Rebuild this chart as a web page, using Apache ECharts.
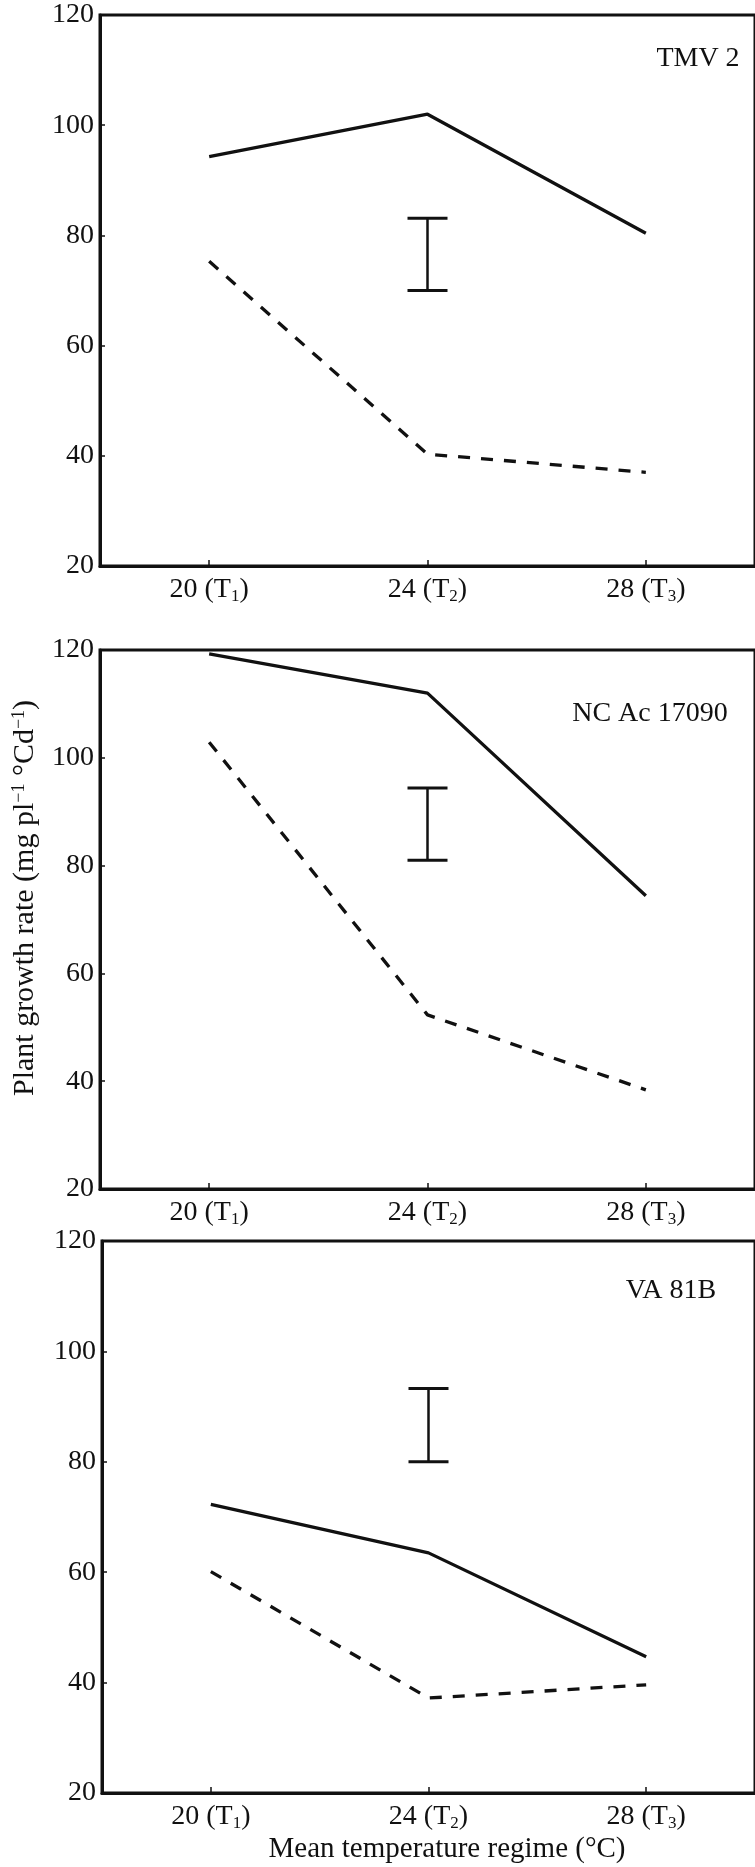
<!DOCTYPE html>
<html>
<head>
<meta charset="utf-8">
<script src="https://cdn.jsdelivr.net/npm/echarts@6/dist/echarts.min.js"></script>
<style>
html,body{margin:0;padding:0;background:#fff;}
#chart{width:755px;height:1867px;}
</style>
</head>
<body>
<div id="chart"></div>
<script>
// ---- data ----
const categories = ['20 (T1)', '24 (T2)', '28 (T3)'];
const panelNames = ['TMV 2', 'NC Ac 17090', 'VA 81B'];
const yMin = 20, yMax = 120, yStep = 20;

const tmvSolid  = [94.3, 102.0, 80.4];
const tmvDashed = [75.3, 40.3, 37.0];
const tmvErr    = [70.0, 83.1];

const ncSolid   = [119.3, 112.0, 74.4];
const ncDashed  = [102.9, 52.3, 38.4];
const ncErr     = [81.0, 94.4];

const vaSolid   = [72.3, 63.5, 44.7];
const vaDashed  = [60.1, 37.2, 39.6];
const vaErr     = [80.0, 93.3];

const errCategoryIndex = 1;

const yTitle = 'Plant growth rate (mg pl{sup|\u22121} \u00B0Cd{sup|\u22121})';
const xTitle = 'Mean temperature regime (\u00B0C)';

// ---- styling / layout ----
const FONT = '"Liberation Serif", "Times New Roman", serif';
const INK = '#111';
const grids = [
  {left: 100, top: 15,   width: 667, height: 551},
  {left: 100, top: 650,  width: 662, height: 539},
  {left: 102, top: 1241, width: 661, height: 552}
];
const panelLabelPos = [[698, 59], [650, 714], [671, 1291]];
const panels = [
  {solid: tmvSolid, dashed: tmvDashed, err: tmvErr},
  {solid: ncSolid,  dashed: ncDashed,  err: ncErr},
  {solid: vaSolid,  dashed: vaDashed,  err: vaErr}
];

const chart = echarts.init(document.getElementById('chart'), null, {renderer: 'canvas'});

const xAxes = [], yAxes = [], series = [], graphics = [];
panels.forEach((p, i) => {
  xAxes.push({
    type: 'category', gridIndex: i, data: categories, boundaryGap: true,
    axisLine: {show: true, lineStyle: {color: INK, width: 3}},
    axisTick: {show: true, inside: true, alignWithLabel: true, interval: 0, length: 6, lineStyle: {color: INK, width: 1.5}},
    splitLine: {show: false},
    axisLabel: {
      interval: 0, hideOverlap: false,
      margin: 9, color: INK, fontFamily: FONT, fontSize: 28,
      formatter: v => '{a|' + v.replace(/T(\d)\)/, 'T}{s|$1}{a|)') + '}',
      rich: {
        a: {fontFamily: FONT, fontSize: 28, color: INK, lineHeight: 30, verticalAlign: 'middle'},
        s: {fontFamily: FONT, fontSize: 17, color: INK, lineHeight: 17, verticalAlign: 'bottom'}
      }
    }
  });
  yAxes.push({
    type: 'value', gridIndex: i, min: yMin, max: yMax, interval: yStep,
    axisLine: {show: true, lineStyle: {color: INK, width: 3}},
    axisTick: {show: true, inside: true, length: 5, lineStyle: {color: INK, width: 1.5}},
    splitLine: {show: false},
    axisLabel: {margin: 6, color: INK, fontFamily: FONT, fontSize: 28}
  });
  series.push({
    type: 'line', xAxisIndex: i, yAxisIndex: i, data: p.solid,
    symbol: 'none', lineStyle: {color: INK, width: 3.3, type: 'solid'}, z: 3
  });
  series.push({
    type: 'line', xAxisIndex: i, yAxisIndex: i, data: p.dashed,
    symbol: 'none', lineStyle: {color: INK, width: 3.3, type: [12, 11]}, z: 3
  });
  series.push({
    type: 'custom', xAxisIndex: i, yAxisIndex: i,
    data: [[errCategoryIndex, p.err[0], p.err[1]]],
    encode: {x: 0, y: [1, 2]},
    renderItem: (params, api) => {
      const lo = api.coord([api.value(0), api.value(1)]);
      const hi = api.coord([api.value(0), api.value(2)]);
      const hw = 20;
      return {
        type: 'group',
        children: [
          {type: 'line', shape: {x1: lo[0], y1: lo[1], x2: hi[0], y2: hi[1]}, style: {stroke: INK, lineWidth: 2.5}},
          {type: 'line', shape: {x1: hi[0]-hw, y1: hi[1], x2: hi[0]+hw, y2: hi[1]}, style: {stroke: INK, lineWidth: 3}},
          {type: 'line', shape: {x1: lo[0]-hw, y1: lo[1], x2: lo[0]+hw, y2: lo[1]}, style: {stroke: INK, lineWidth: 3}}
        ]
      };
    }
  });
  graphics.push({
    type: 'text', x: panelLabelPos[i][0], y: panelLabelPos[i][1],
    style: {text: panelNames[i], fill: INK, fontFamily: FONT, fontSize: 28, align: 'center', verticalAlign: 'middle'}
  });
});

graphics.push({
  type: 'text', x: 25, y: 898, rotation: Math.PI / 2,
  style: {
    text: yTitle, fill: INK, fontFamily: FONT, fontSize: 30, align: 'center', verticalAlign: 'middle',
    rich: {sup: {fontFamily: FONT, fontSize: 18, fill: INK, lineHeight: 18, verticalAlign: 'top'}}
  }
});
graphics.push({
  type: 'text', x: 447, y: 1849,
  style: {text: xTitle, fill: INK, fontFamily: FONT, fontSize: 29, align: 'center', verticalAlign: 'middle'}
});

chart.setOption({
  animation: false,
  backgroundColor: '#fff',
  grid: grids.map(g => Object.assign({show: true, borderColor: INK, borderWidth: 3, containLabel: false}, g)),
  xAxis: xAxes,
  yAxis: yAxes,
  series: series,
  graphic: graphics
});
</script>
</body>
</html>
